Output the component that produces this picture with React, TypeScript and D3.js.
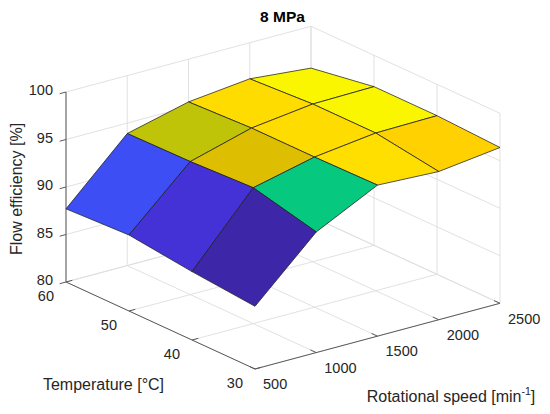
import React from "react";
import * as d3 from "d3";

// ---- data ----
const speeds = [500, 1000, 1500, 2000, 2500];
const temps = [30, 40, 50, 60];
// rows: temperature (30, 40, 50, 60); columns: rotational speed
const eff30 = [86.6, 92.7, 95.9, 95.6, 96.4];
const eff40 = [87.2, 94.3, 95.8, 96.6, 96.7];
const eff50 = [88.0, 94.0, 95.8, 96.6, 96.7];
const eff60 = [87.7, 93.9, 95.5, 96.2, 95.6];
const efficiency = [eff30, eff40, eff50, eff60];
const zTicks = [80, 85, 90, 95, 100];
const speedTicks = [500, 1000, 1500, 2000, 2500];
const tempTicks = [30, 40, 50, 60];

// ---- colormap (parula-like) ----
const cmapStops = [0, 0.06, 0.14, 0.3, 0.45, 0.6, 0.73, 0.765, 0.89, 0.91, 1];
const cmapColors = ["#3e26a8", "#4532d6", "#3d50f5", "#1f8ef0", "#00b4c8", "#00c882", "#bcc40a", "#e0be00", "#ffd000", "#ffdc00", "#f9f900"];

const W = 550;
const H = 414;
const FONT = "'Liberation Sans', Arial, Helvetica, sans-serif";

// projection geometry
const origin = [255, 369];
const vS = [245, -65.7];
const vT = [-189, -87];
const vZ = -190;

const sx = d3.scaleLinear().domain([500, 2500]).range([0, 1]);
const st = d3.scaleLinear().domain([30, 60]).range([0, 1]);
const sz = d3.scaleLinear().domain([80, 100]).range([0, 1]);

function P(s: number, t: number, z: number): [number, number] {
  const u = sx(s), v = st(t), w = sz(z);
  return [origin[0] + u * vS[0] + v * vT[0], origin[1] + u * vS[1] + v * vT[1] + w * vZ];
}

const lineGen = d3.line<[number, number]>();

export default function App() {
  const allZ = efficiency.flat();
  const zMin = d3.min(allZ) as number;
  const zMax = d3.max(allZ) as number;
  const cnorm = d3.scaleLinear().domain([zMin, zMax]).range([0, 1]).clamp(true);
  const cmap = d3.scaleLinear<string>().domain(cmapStops).range(cmapColors).interpolate(d3.interpolateRgb);

  const grid: string[] = [];
  // floor z=80
  speedTicks.forEach((s) => grid.push(lineGen([P(s, 30, 80), P(s, 60, 80)]) as string));
  tempTicks.forEach((t) => grid.push(lineGen([P(500, t, 80), P(2500, t, 80)]) as string));
  // back wall temp=60
  speedTicks.forEach((s) => grid.push(lineGen([P(s, 60, 80), P(s, 60, 100)]) as string));
  zTicks.forEach((z) => grid.push(lineGen([P(500, 60, z), P(2500, 60, z)]) as string));
  // right wall speed=2500
  tempTicks.forEach((t) => grid.push(lineGen([P(2500, t, 80), P(2500, t, 100)]) as string));
  zTicks.forEach((z) => grid.push(lineGen([P(2500, 30, z), P(2500, 60, z)]) as string));

  const faces: { d: string; fill: string; key: number }[] = [];
  for (let j = 0; j < temps.length - 1; j++) {
    for (let i = 0; i < speeds.length - 1; i++) {
      const pts: [number, number][] = [
        P(speeds[i], temps[j], efficiency[j][i]),
        P(speeds[i + 1], temps[j], efficiency[j][i + 1]),
        P(speeds[i + 1], temps[j + 1], efficiency[j + 1][i + 1]),
        P(speeds[i], temps[j + 1], efficiency[j + 1][i]),
      ];
      faces.push({
        d: (lineGen(pts) as string) + "Z",
        fill: cmap(cnorm(efficiency[j][i])),
        key: i + j,
      });
    }
  }
  faces.sort((a, b) => b.key - a.key);

  const axisColor = "#5a5a5a";
  const textColor = "#262626";

  const zAxisBase = P(500, 60, 80);
  const zAxisTop = P(500, 60, 100);
  const tAxisA = P(500, 30, 80);
  const tAxisB = P(500, 60, 80);
  const sAxisA = P(500, 30, 80);
  const sAxisB = P(2500, 30, 80);

  return (
    <svg width={W} height={H} style={{ position: "absolute", left: 0, top: 0, background: "#fff" }} fontFamily={FONT}>
      <rect x={0} y={0} width={W} height={H} fill="#fff" />
      <g fill="none" stroke="#dedede" strokeWidth={0.9}>
        {grid.map((d, k) => (
          <path key={k} d={d} />
        ))}
      </g>
      {/* axes */}
      <g stroke={axisColor} strokeWidth={1} fill="none">
        <path d={lineGen([zAxisBase, zAxisTop]) as string} />
        <path d={lineGen([tAxisA, tAxisB]) as string} />
        <path d={lineGen([sAxisA, sAxisB]) as string} />
        {zTicks.map((z) => {
          const p = P(500, 60, z);
          return <path key={"zt" + z} d={lineGen([p, [p[0] - 6.3, p[1] + 1.7]]) as string} />;
        })}
        {tempTicks.map((t) => {
          const p = P(500, t, 80);
          return <path key={"tt" + t} d={lineGen([p, [p[0] + 6.3, p[1] - 1.7]]) as string} />;
        })}
        {speedTicks.map((s) => {
          const p = P(s, 30, 80);
          return <path key={"st" + s} d={lineGen([p, [p[0] - 5.9, p[1] - 2.7]]) as string} />;
        })}
      </g>
      {/* surface */}
      <g stroke="#1e1e1e" strokeWidth={0.75} strokeLinejoin="round">
        {faces.map((f, k) => (
          <path key={k} d={f.d} fill={f.fill} />
        ))}
      </g>
      {/* tick labels */}
      <g fontSize={14.5} fill={textColor}>
        {zTicks.map((z) => {
          const p = P(500, 60, z);
          return (
            <text key={"zl" + z} x={p[0] - 13} y={p[1] + 3.2} textAnchor="end">
              {z}
            </text>
          );
        })}
        {tempTicks.map((t) => {
          const p = P(500, t, 80);
          return (
            <text key={"tl" + t} x={p[0] - 12} y={p[1] + 18.5} textAnchor="end">
              {t}
            </text>
          );
        })}
        {speedTicks.map((s) => {
          const p = P(s, 30, 80);
          return (
            <text key={"sl" + s} x={p[0] + 8} y={p[1] + 20.2} textAnchor="start">
              {s}
            </text>
          );
        })}
      </g>
      {/* labels */}
      <text x={282.5} y={21.5} textAnchor="middle" fontSize={15.5} fontWeight="bold" fill="#000">
        8 MPa
      </text>
      <text
        transform="translate(21.5,189) rotate(-90)"
        textAnchor="middle"
        fontSize={16}
        fill={textColor}
      >
        Flow efficiency [%]
      </text>
      <text x={103.5} y={390} textAnchor="middle" fontSize={16} fill={textColor}>
        Temperature [°C]
      </text>
      <text x={451} y={401.5} textAnchor="middle" fontSize={16} fill={textColor}>
        Rotational speed [min
        <tspan fontSize={10.5} dy={-7}>-1</tspan>
        <tspan dy={7}>]</tspan>
      </text>
    </svg>
  );
}
